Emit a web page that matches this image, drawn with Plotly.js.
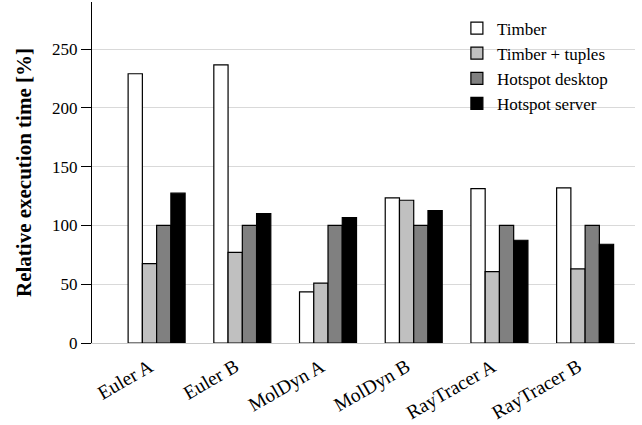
<!DOCTYPE html>
<html>
<head>
<meta charset="utf-8">
<script src="https://cdn.plot.ly/plotly-3.0.1.min.js"></script>
<style>html,body{margin:0;padding:0;background:#fff;}#chart{width:642px;height:425px;}</style>
</head>
<body>
<div id="chart"></div>
<script>
const categories = ["Euler A", "Euler B", "MolDyn A", "MolDyn B", "RayTracer A", "RayTracer B"];
const timber = [229, 236.6, 43.5, 123.5, 131.3, 132];
const timberTuples = [67.5, 77, 51, 121.4, 60.7, 63];
const hotspotDesktop = [100, 100, 100, 100, 100, 100];
const hotspotServer = [127.4, 110, 106.7, 112.6, 87.4, 84];
const yTicks = [0, 50, 100, 150, 200, 250];

const seriesNames = ["Timber", "Timber + tuples", "Hotspot desktop", "Hotspot server"];
const seriesData = [timber, timberTuples, hotspotDesktop, hotspotServer];
const seriesColors = ["#ffffff", "#c0c0c0", "#808080", "#000000"];

const FONT = "Liberation Serif";

const traces = seriesData.map((vals, i) => ({
  type: "bar",
  name: seriesNames[i],
  x: categories,
  y: vals,
  marker: {color: seriesColors[i], line: {color: "#000000", width: 1.2}},
  hoverinfo: "skip"
}));

const layout = {
  width: 642,
  height: 425,
  margin: {l: 92, r: 7, t: 2, b: 82},
  paper_bgcolor: "#ffffff",
  plot_bgcolor: "#ffffff",
  barmode: "group",
  bargap: 0.335,
  bargroupgap: 0,
  font: {family: FONT, color: "#000000", size: 17},
  showlegend: true,
  legend: {
    x: 0.672, xanchor: "left", y: 0.975, yanchor: "top",
    bgcolor: "rgba(0,0,0,0)", borderwidth: 0,
    font: {family: FONT, size: 17, color: "#000000"},
    tracegroupgap: 0
  },
  xaxis: {
    type: "category",
    range: [-0.754, 5.582],
    tickangle: -30,
    tickfont: {family: FONT, size: 19.5, color: "#000000"},
    ticklabelshift: -7,
    ticklabelstandoff: 4,
    showgrid: false,
    zeroline: false,
    showline: true,
    linecolor: "#c8c8c8",
    linewidth: 1,
    ticks: "",
    fixedrange: true
  },
  yaxis: {
    range: [0, 290],
    tickvals: yTicks,
    ticktext: yTicks.map(String),
    tickfont: {family: FONT, size: 17, color: "#000000"},
    ticks: "outside",
    ticklen: 10,
    tickcolor: "#000000",
    tickwidth: 1,
    showline: true,
    linecolor: "#000000",
    linewidth: 1,
    showgrid: true,
    gridcolor: "#d9d9d9",
    gridwidth: 1,
    zeroline: false,
    title: {text: "<b>Relative execution time [%]</b>", font: {family: FONT, size: 21, color: "#000000"}, standoff: 14},
    fixedrange: true
  }
};

Plotly.newPlot("chart", traces, layout, {displayModeBar: false, staticPlot: true});
</script>
</body>
</html>
